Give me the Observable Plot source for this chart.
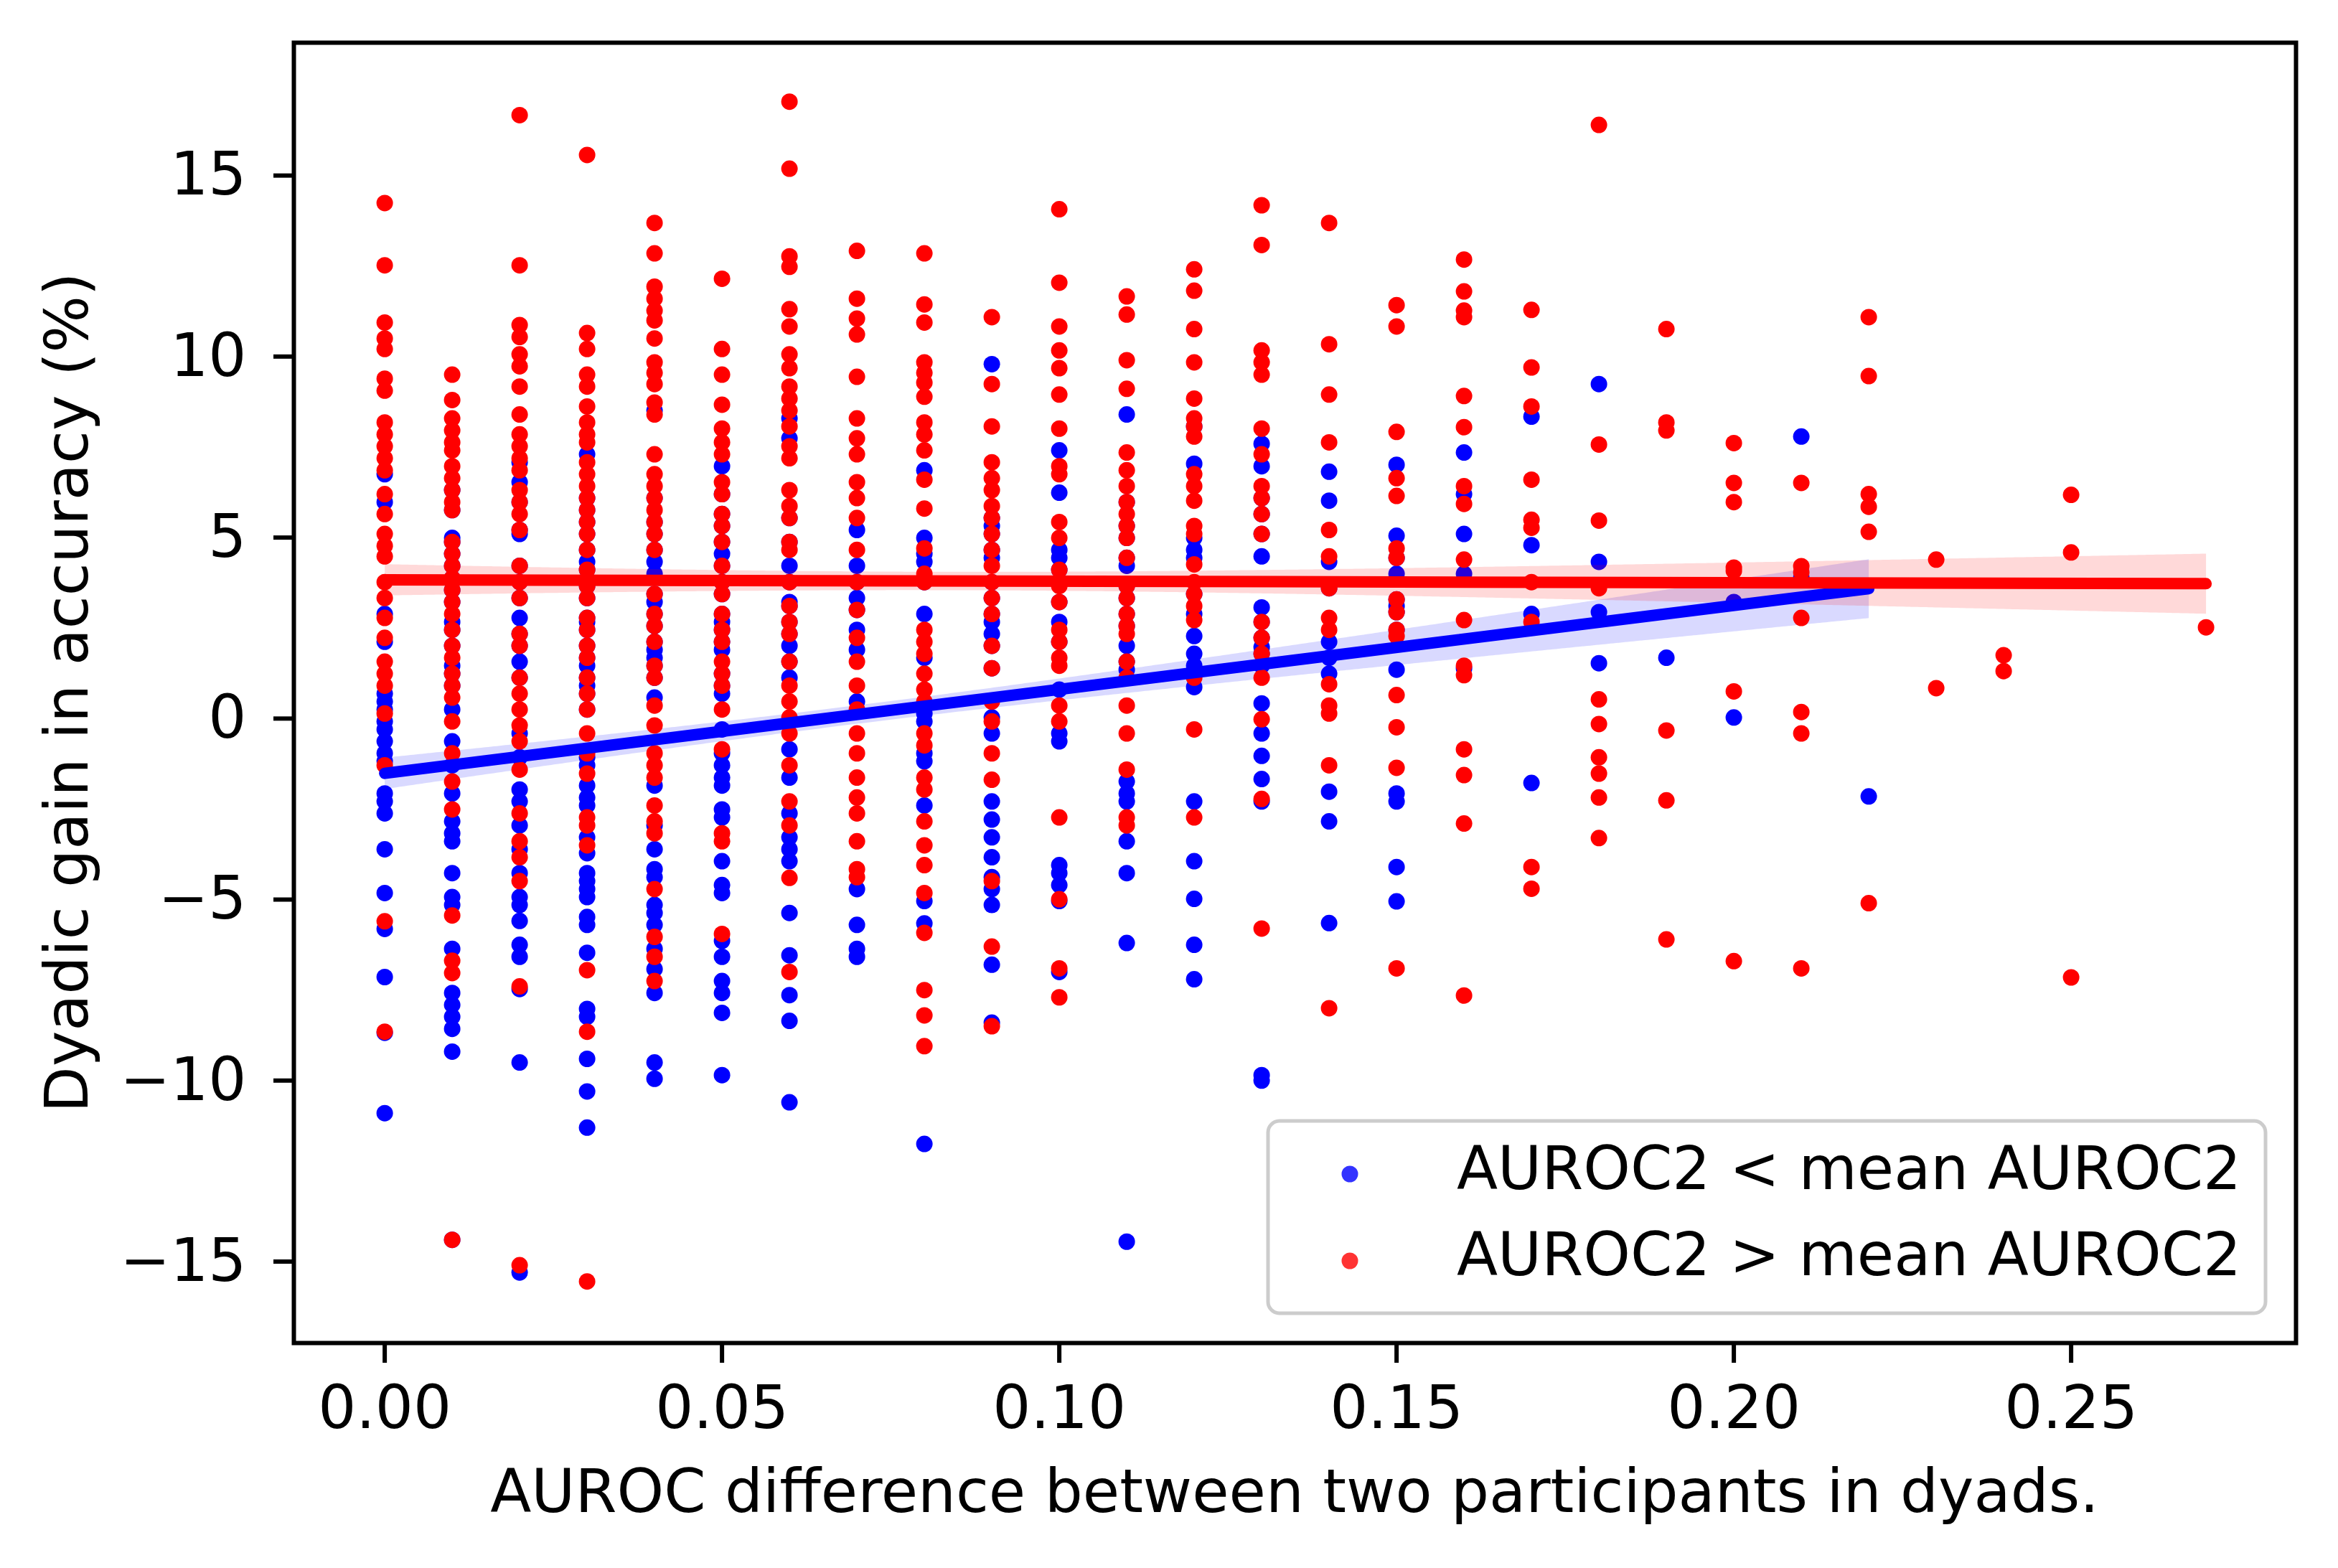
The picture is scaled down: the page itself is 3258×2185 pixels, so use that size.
<!DOCTYPE html>
<html><head><meta charset="utf-8">
<script src="https://cdn.jsdelivr.net/npm/d3@7"></script>
<script src="https://cdn.jsdelivr.net/npm/@observablehq/plot@0.6"></script>
<style>body{margin:0;background:#fff} svg{font-family:"DejaVu Sans",sans-serif}</style>
</head><body><div id="chart"></div>
<script>
const xCols = [0.00,0.01,0.02,0.03,0.04,0.05,0.06,0.07,0.08,0.09,0.10,0.11,0.12,0.13,0.14,0.15,0.16,0.17,0.18,0.19,0.20,0.21,0.22,0.23,0.24,0.25,0.26,0.27];

// visible blue points (AUROC2 < mean AUROC2)
const blueVals = [
  [6.75,5.98,2.89,2.12,0.69,0.47,0.25,-0.08,-0.3,-0.63,-0.96,-1.18,-2.07,-2.29,-2.62,-3.61,-4.82,-5.81,-7.14,-8.68,-10.9],
  [4.99,2.67,1.46,0.25,-0.63,-1.29,-2.07,-2.84,-3.17,-3.39,-4.27,-4.93,-5.15,-6.36,-7.58,-7.91,-8.24,-8.57,-9.2,-14.4],
  [7.08,6.53,5.1,2.78,1.57,-0.41,-1.07,-1.96,-2.29,-2.95,-3.61,-4.27,-4.93,-5.15,-5.59,-6.25,-6.58,-7.47,-9.5,-15.3],
  [7.3,4.33,2.67,1.46,0.91,-1.07,-1.29,-1.85,-2.18,-2.4,-3.28,-3.72,-4.27,-4.49,-4.71,-4.93,-5.48,-5.7,-6.47,-8.02,-8.24,-9.4,-10.3,-11.3],
  [8.51,4.33,4.0,3.22,1.9,1.68,0.58,-1.85,-2.95,-3.61,-4.16,-4.38,-5.15,-5.37,-5.7,-6.36,-6.92,-7.58,-9.5,-9.95],
  [6.97,4.55,2.67,1.9,0.69,-0.3,-0.96,-1.29,-1.63,-1.85,-2.51,-2.73,-3.94,-4.6,-4.82,-6.14,-6.58,-7.25,-7.58,-8.13,-9.85],
  [8.29,7.74,4.22,3.22,2.01,1.13,-0.85,-1.63,-2.62,-3.28,-3.61,-3.94,-5.37,-6.54,-7.64,-8.35,-10.6],
  [5.21,4.22,3.33,2.45,1.9,0.47,-4.71,-5.7,-6.36,-6.58],
  [6.86,4.99,4.55,4.33,2.89,1.68,0.14,-0.08,-0.96,-1.18,-2.4,-5.04,-5.66,-11.75],
  [9.79,5.32,4.44,2.67,2.34,0.03,-0.41,-2.29,-2.79,-3.28,-3.83,-4.38,-4.71,-5.15,-6.8,-8.4],
  [7.41,6.24,4.66,4.44,2.67,0.8,-0.41,-0.63,-4.05,-4.27,-4.6,-5.04,-7.0],
  [8.4,4.22,2.01,1.35,-1.74,-2.07,-2.29,-3.39,-4.27,-6.2,-14.45],
  [8.07,7.04,4.99,4.66,4.44,2.89,2.28,1.79,1.46,0.87,-2.29,-3.94,-4.98,-6.25,-7.2],
  [7.59,6.97,4.48,3.07,1.97,1.46,0.42,-0.41,-1.03,-1.67,-2.29,-9.85,-10.0],
  [6.82,6.02,4.33,2.12,1.68,1.24,-2.02,-2.84,-5.65],
  [7.01,5.05,4.0,3.11,1.35,-2.07,-2.29,-4.1,-5.05],
  [7.35,6.2,5.1,4.0,1.39],
  [8.34,4.79,2.89,-1.78],
  [9.24,4.33,2.94,1.53],
  [1.68],
  [3.22,0.03],
  [7.79,3.9],
  [-2.15],
  [],[],[],[],[]
];

// blue points estimated to lie hidden under red dots in the dense columns
const blueHidden = [
  [],
  [6.31,5.76,4.88,4.55,4.22,3.88,3.55,3.22,2.45,2.01,1.24,0.91],
  [5.98,5.21,4.22,3.77,3.33,2.34,2.01,1.13],
  [6.09,5.76,5.43,5.1,4.66,4.11,3.66,3.33,2.78,2.45,2.01,1.68,1.13,0.69,0.25],
  [6.09,5.43,5.1,4.66,3.44,2.89,2.56,2.12,1.46,1.13],
  [6.2,5.65,5.32,4.88,4.22,3.77,3.44,2.89,2.45,2.12,1.24,0.91],
  [5.54,4.88,3.77,3.11,2.67,2.34,1.57],
  [3.77,3.0],
  [3.77],
  [5.54,5.1,4.66,3.77,3.33,2.89,2.01,1.39],
  [4.11,3.22,2.12],
  [5.98,5.32,4.99,4.44,3.66,3.33,2.89,2.56,1.57],
  [3.44],
  [6.09,5.65,5.1,2.67,2.23,1.79],
  [3.6],
  [4.44,3.29,2.94,2.45]
];

// red points (AUROC2 > mean AUROC2)
const redVals = [
  [14.24,12.52,10.94,10.5,10.21,9.39,9.06,8.18,7.85,7.52,7.19,6.86,6.2,5.65,5.1,4.77,4.48,3.77,3.33,2.78,2.23,1.57,1.24,0.91,0.14,-1.29,-5.6,-8.65],
  [9.5,8.8,8.29,7.96,7.63,7.41,6.97,6.64,6.31,5.98,5.76,4.88,4.55,4.22,3.88,3.55,3.22,2.89,2.45,2.01,1.68,1.24,0.91,0.58,-0.08,-0.96,-1.74,-2.51,-5.44,-6.69,-7.03,-14.4],
  [16.67,12.52,10.87,10.54,10.06,9.73,9.17,8.4,7.85,7.52,7.19,6.86,6.31,5.98,5.65,5.21,4.22,3.77,3.33,2.34,2.01,1.13,0.69,0.25,-0.19,-0.63,-1.41,-2.62,-3.39,-3.83,-4.49,-7.4,-15.1],
  [15.57,10.65,10.21,9.5,9.17,8.62,8.18,7.85,7.63,7.08,6.75,6.42,6.09,5.76,5.43,5.1,4.66,4.11,3.66,3.33,2.78,2.45,2.01,1.68,1.13,0.69,0.25,-0.41,-0.96,-1.52,-2.73,-2.95,-3.5,-6.95,-8.65,-15.55],
  [13.69,12.85,11.93,11.6,11.27,11.0,10.5,9.84,9.55,9.24,8.73,8.4,7.3,6.75,6.42,6.09,5.76,5.43,5.1,4.66,3.44,2.89,2.56,2.12,1.46,1.13,0.36,-0.19,-0.96,-1.29,-1.63,-2.4,-2.84,-3.17,-4.71,-6.03,-6.58,-7.25],
  [12.15,10.21,9.5,8.67,8.01,7.63,7.3,6.53,6.2,5.65,5.32,4.88,4.22,3.77,3.44,2.89,2.45,2.12,1.57,1.24,0.91,0.25,-0.85,-3.17,-3.39,-5.95],
  [17.04,15.19,12.77,12.48,11.31,10.83,10.06,9.68,9.17,8.84,8.51,8.07,7.52,7.19,6.31,5.87,5.54,4.88,4.66,3.77,3.11,2.67,2.34,1.57,0.91,0.47,0.03,-0.41,-1.29,-2.29,-2.95,-4.4,-7.0],
  [12.92,11.6,11.05,10.61,9.44,8.29,7.74,7.3,6.53,6.09,5.54,4.66,3.77,3.0,2.23,1.57,0.91,0.25,-0.41,-0.96,-1.63,-2.18,-2.62,-3.39,-4.16,-4.38],
  [12.85,11.44,10.94,9.84,9.55,9.28,8.89,8.18,7.85,7.41,6.6,5.8,4.7,4.0,3.77,2.45,2.12,1.79,1.24,0.8,0.47,-0.41,-0.74,-1.63,-1.96,-2.84,-3.5,-4.05,-4.82,-5.92,-7.5,-8.2,-9.05],
  [11.09,9.24,8.07,7.08,6.64,6.31,5.87,5.54,5.1,4.66,4.22,3.77,3.33,2.89,2.01,1.39,0.47,-0.08,-0.96,-1.69,-4.49,-6.3,-8.5],
  [14.07,12.04,10.83,10.17,9.68,8.95,8.01,6.97,6.75,5.43,4.99,4.11,3.66,3.22,2.45,2.12,1.68,1.46,0.36,-0.08,-2.73,-4.99,-6.9,-7.7],
  [11.66,11.16,9.9,9.11,7.35,6.86,6.42,5.98,5.65,5.32,4.99,4.44,3.66,3.33,2.89,2.56,2.34,1.57,1.13,0.36,-0.41,-1.41,-2.73,-2.95],
  [12.41,11.82,10.76,9.84,8.84,8.29,8.07,7.79,6.75,6.42,6.02,5.32,5.1,4.26,3.77,3.44,3.11,2.72,1.13,-0.3,-2.73],
  [14.18,13.08,10.17,9.84,9.5,8.01,7.3,6.42,6.09,5.65,5.1,2.67,2.23,1.79,1.13,-0.02,-2.22,-5.8],
  [13.69,10.34,8.95,7.63,5.21,4.48,3.6,2.78,2.45,0.95,0.36,0.14,-1.29,-8.0],
  [11.42,10.83,7.92,6.64,6.15,4.7,4.44,3.29,2.94,2.45,2.28,0.65,-0.24,-1.36,-6.9],
  [12.68,11.8,11.27,11.09,8.91,8.05,6.42,5.93,4.39,2.72,1.46,1.2,-0.85,-1.56,-2.9,-7.65],
  [11.29,9.7,8.62,6.6,5.49,5.27,3.77,2.67,-4.1,-4.7],
  [16.4,7.57,5.47,3.6,0.53,-0.15,-1.07,-1.52,-2.18,-3.3],
  [10.76,8.18,7.96,-0.33,-2.26,-6.1],
  [7.61,6.51,5.98,4.17,4.08,0.75,-6.7],
  [6.51,4.21,4.04,2.78,0.18,-0.41,-6.9],
  [11.09,9.46,6.2,5.85,5.16,-5.1],
  [4.39,0.84],
  [1.75,1.31],
  [6.18,4.59,-7.15],
  [],
  [2.52]
];

const xTicks = [0, 0.05, 0.10, 0.15, 0.20, 0.25];
const yTicks = [-15, -10, -5, 0, 5, 10, 15];
const groupLabels = ["AUROC2 < mean AUROC2", "AUROC2 > mean AUROC2"];
const groupColors = ["#0000ff", "#ff0000"];
const xLabel = "AUROC difference between two participants in dyads.";
const yLabel = "Dyadic gain in accuracy (%)";

const toRows = (vals, g) => vals.flatMap((col, i) => col.map(v => ({x: xCols[i], y: v, g})));
const blue = toRows(blueVals, groupLabels[0]).concat(toRows(blueHidden, groupLabels[0]));
const red = toRows(redVals, groupLabels[1]);

const FS = 83.5;
const chart = Plot.plot({
  width: 3258, height: 2185,
  marginLeft: 409, marginRight: 59, marginTop: 59, marginBottom: 314,
  style: {fontFamily: "DejaVu Sans", fontSize: FS + "px", background: "#fff", color: "#000"},
  x: {domain: [-0.01347, 0.28334]},
  y: {domain: [-17.25, 18.67]},
  marks: [
    Plot.dot(blue, {x: "x", y: "y", r: 11.5, fill: groupColors[0], stroke: "none"}),
    Plot.linearRegressionY(blue, {x: "x", y: "y", fill: groupColors[0], fillOpacity: 0.15, stroke: groupColors[0], strokeOpacity: 0, ci: 0.7}),
    Plot.dot(red, {x: "x", y: "y", r: 11.5, fill: groupColors[1], stroke: "none"}),
    Plot.linearRegressionY(red, {x: "x", y: "y", fill: groupColors[1], fillOpacity: 0.15, stroke: groupColors[1], strokeOpacity: 0, ci: 0.7}),
    Plot.linearRegressionY(blue, {x: "x", y: "y", stroke: groupColors[0], strokeWidth: 16, ci: 0}),
    Plot.linearRegressionY(red, {x: "x", y: "y", stroke: groupColors[1], strokeWidth: 16, ci: 0}),
    Plot.frame({stroke: "#000", strokeWidth: 6}),
    Plot.axisX({ticks: xTicks, tickFormat: d3.format(".2f"), tickSize: 28, tickPadding: 31, strokeWidth: 6, fontSize: FS, label: null}),
    Plot.axisY({ticks: yTicks, tickFormat: d3.format("d"), tickSize: 28, tickPadding: 38, strokeWidth: 6, fontSize: FS, label: null})
  ]
});

document.getElementById("chart").appendChild(chart);
const svg = d3.select(chart);

// axis titles
svg.append("text").attr("x", 1804).attr("y", 2107).attr("text-anchor", "middle")
  .attr("font-size", FS).attr("font-family", "DejaVu Sans").attr("fill", "#000").text(xLabel);
svg.append("text").attr("transform", "translate(122,965) rotate(-90)").attr("text-anchor", "middle")
  .attr("font-size", FS).attr("font-family", "DejaVu Sans").attr("fill", "#000").text(yLabel);

// legend
const lg = svg.append("g");
lg.append("rect").attr("x", 1767).attr("y", 1562).attr("width", 1390).attr("height", 268).attr("rx", 16)
  .attr("fill", "#fff").attr("fill-opacity", 0.8).attr("stroke", "#cccccc").attr("stroke-width", 5);
groupLabels.forEach((lab, i) => {
  const cy = 1636 + i * 121;
  lg.append("circle").attr("cx", 1881).attr("cy", cy).attr("r", 11.5).attr("fill", groupColors[i]).attr("fill-opacity", 0.8);
  lg.append("text").attr("x", 2030).attr("y", 1657 + i * 120).attr("font-size", FS).attr("text-anchor", "start")
    .attr("font-family", "DejaVu Sans").attr("fill", "#000").text(lab);
});
</script>
</body></html>
